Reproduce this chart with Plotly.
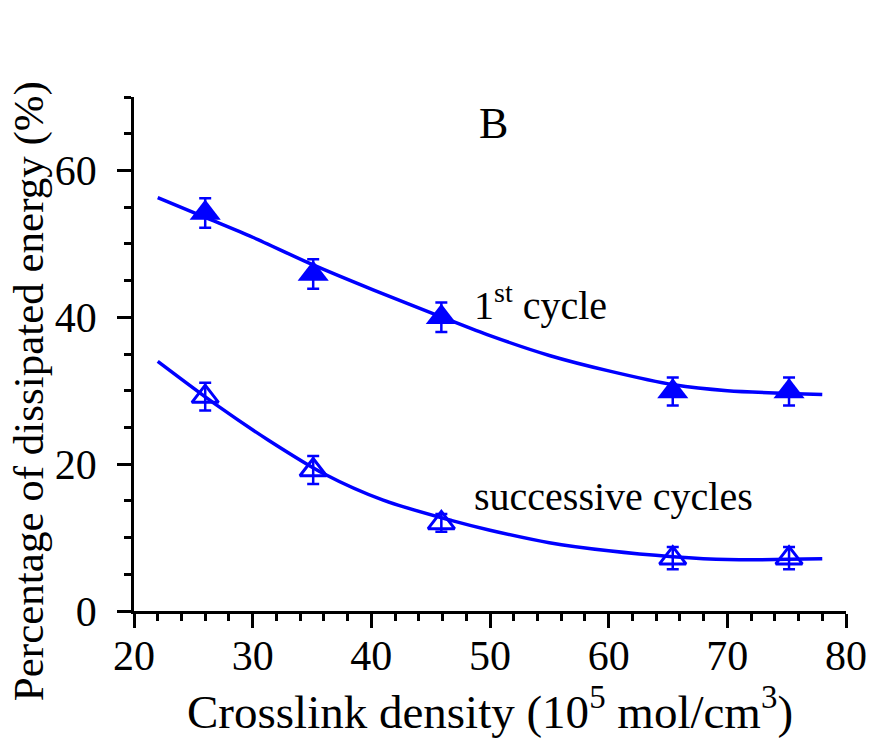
import plotly.graph_objects as go

# Measured points (crosslink density vs. dissipated energy)
density = [26.0, 35.1, 45.9, 65.4, 75.2]
first_cycle = [54.2, 45.9, 40.0, 29.9, 29.9]
first_err = [2.0, 2.0, 2.0, 1.9, 1.9]
successive = [29.2, 19.2, 12.0, 7.2, 7.2]
successive_err = [1.9, 1.9, 1.2, 1.5, 1.5]

# Fitted trend curves
fit1_x = [22.0, 26.0, 30.0, 35.0, 40.2, 46.0, 50.0, 55.0, 60.0, 65.5, 70.0, 78.0]
fit1_y = [56.3, 53.6, 50.9, 47.2, 43.7, 40.0, 37.5, 34.8, 32.7, 30.8, 30.0, 29.5]
fit2_x = [22.0, 27.0, 31.3, 36.0, 41.0, 46.8, 50.0, 55.0, 60.0, 65.4, 70.0, 78.0]
fit2_y = [34.0, 28.0, 23.3, 18.7, 15.1, 12.3, 11.0, 9.3, 8.2, 7.4, 7.0, 7.1]

x_ticks = [20, 30, 40, 50, 60, 70, 80]
y_ticks = [0, 20, 40, 60]

BLUE = "#0000FF"
FONT = "Liberation Serif"

fig = go.Figure()

fig.add_trace(go.Scatter(x=fit1_x, y=fit1_y, mode="lines",
                         line=dict(color=BLUE, width=3.5, shape="spline", smoothing=0.8),
                         hoverinfo="skip"))
fig.add_trace(go.Scatter(x=fit2_x, y=fit2_y, mode="lines",
                         line=dict(color=BLUE, width=3.5, shape="spline", smoothing=0.8),
                         hoverinfo="skip"))

fig.add_trace(go.Scatter(
    x=density, y=first_cycle, mode="markers",
    marker=dict(symbol="triangle-up", size=27, color=BLUE, line=dict(width=0)),
    error_y=dict(type="data", array=first_err, visible=True, color=BLUE, thickness=2.5, width=6),
))
fig.add_trace(go.Scatter(
    x=density, y=successive, mode="markers",
    marker=dict(symbol="triangle-up-open", size=23, color=BLUE, line=dict(width=3, color=BLUE)),
    error_y=dict(type="data", array=successive_err, visible=True, color=BLUE, thickness=2.5, width=6),
))

axis_common = dict(
    showline=True, linecolor="black", linewidth=2.5,
    ticks="outside", ticklen=14, tickwidth=2.5, tickcolor="black",
    showgrid=False, zeroline=False,
    tickfont=dict(family=FONT, size=42, color="black"),
    minor=dict(ticks="outside", ticklen=7, tickwidth=2.5, tickcolor="black", showgrid=False),
)

fig.update_xaxes(range=[20, 80], tickvals=x_ticks, ticktext=[str(v) for v in x_ticks],
                 minor_dtick=2, minor_tick0=20, ticklabelstandoff=-8, **axis_common)
fig.update_yaxes(range=[0, 70], tickvals=y_ticks, ticktext=[str(v) for v in y_ticks],
                 minor_dtick=5, minor_tick0=0, ticklabelstandoff=12, **axis_common)

text_font = dict(family=FONT, size=40, color="black")
fig.add_annotation(x=50.3, y=66.4, xref="x", yref="y", text="B", showarrow=False,
                   font=dict(family=FONT, size=44, color="black"))
fig.add_annotation(x=48.45, y=42.0, xref="x", yref="y", xanchor="left",
                   text="1<sup>st</sup> cycle", showarrow=False, font=text_font)
fig.add_annotation(x=48.45, y=15.6, xref="x", yref="y", xanchor="left",
                   text="successive cycles", showarrow=False, font=text_font)

# Axis titles
fig.add_annotation(x=0.5, y=-0.19, xref="paper", yref="paper", yanchor="middle",
                   text="Crosslink density (10<sup>5</sup> mol/cm<sup>3</sup>)",
                   showarrow=False, font=dict(family=FONT, size=47, color="black"))
fig.add_annotation(x=-0.148, y=0.427, xref="paper", yref="paper", xanchor="center",
                   yanchor="middle", textangle=-90,
                   text="Percentage of dissipated energy (%)",
                   showarrow=False, font=dict(family=FONT, size=43, color="black"))

fig.update_layout(
    width=879, height=741,
    margin=dict(l=134, r=23, t=97, b=130),
    paper_bgcolor="white", plot_bgcolor="white",
    showlegend=False,
)

fig.write_html("out.html")
